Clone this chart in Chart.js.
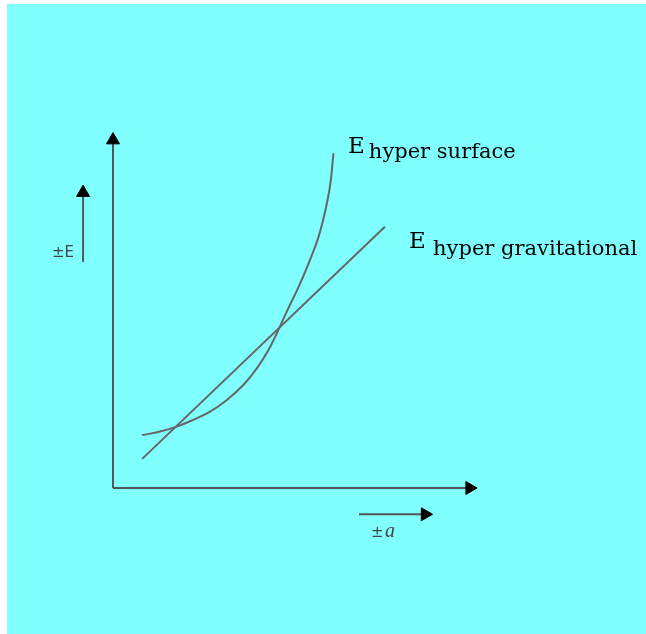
<!DOCTYPE html>
<html lang="en">
<head>
    <meta charset="UTF-8">
    <title>E hyper surface / E hyper gravitational</title>
    <script src="https://cdn.jsdelivr.net/npm/chart.js"></script>
    <style>
        html, body { margin: 0; padding: 0; background: #ffffff; }
        #wrap {
            position: absolute; left: 7px; top: 4px;
            width: 639px; height: 630px;
            background: #80ffff;
        }
    </style>
</head>
<body>
    <div id="wrap"><canvas id="energyChart"></canvas></div>

    <script>
        // curve values, in axis units (origin = where the two axes meet, axes run 0..10)
        const surfaceX = [0.80, 1.29, 1.75, 2.20, 2.66, 3.12, 3.57, 3.94, 4.26, 4.49, 4.76, 5.07, 5.34, 5.62, 5.81, 5.95, 6.04];
        const surfaceY = [1.49, 1.59, 1.73, 1.92, 2.15, 2.48, 2.90, 3.37, 3.89, 4.36, 4.97, 5.63, 6.28, 7.04, 7.78, 8.54, 9.43];

        const gravX = [0.80, 7.45];
        const gravY = [0.82, 7.36];

        // the two main axes (last point carries the arrow head)
        const yAxisX = [0, 0];
        const yAxisY = [0, 9.80];
        const xAxisX = [0, 9.77];
        const xAxisY = [0, 0];

        // the small direction arrows beside the axes
        const eArrowX = [-0.82, -0.82];
        const eArrowY = [6.37, 8.32];
        const aArrowX = [6.74, 8.55];
        const aArrowY = [-0.74, -0.74];

        // visible range of the drawing, in the same units
        const xRange = [-2.904, 14.603];
        const yRange = [-4.113, 13.634];

        const toPoints = (xs, ys) => xs.map((x, i) => ({ x: x, y: ys[i] }));

        // text, anchored at its left end / baseline, in axis units
        const labels = [
            { text: '\u00b1E', x: -1.67, y: 6.51, font: '15px "DejaVu Sans"', color: '#444444' },
            { text: 'E', x: 6.44, y: 9.44, font: '23px "DejaVu Serif"', color: '#000000' },
            { text: 'hyper surface', x: 7.01, y: 9.30, font: '21px "DejaVu Serif"', color: '#000000' },
            { text: 'E', x: 8.11, y: 6.76, font: '23px "DejaVu Serif"', color: '#000000' },
            { text: 'hyper gravitational', x: 8.77, y: 6.56, font: '21px "DejaVu Serif"', color: '#000000' },
            { text: '\u00b1', x: 7.07, y: -1.38, font: '15px "DejaVu Sans"', color: '#444444' },
            { text: 'a', x: 7.45, y: -1.38, font: 'italic 20px "Liberation Serif"', color: '#444444' }
        ];

        const labelPlugin = {
            id: 'labelPlugin',
            afterDraw(chart) {
                const ctx = chart.ctx;
                const xs = chart.scales.x;
                const ys = chart.scales.y;
                ctx.save();
                ctx.textAlign = 'left';
                ctx.textBaseline = 'alphabetic';
                labels.forEach(l => {
                    ctx.font = l.font;
                    ctx.fillStyle = l.color;
                    ctx.fillText(l.text, xs.getPixelForValue(l.x), ys.getPixelForValue(l.y));
                });
                ctx.restore();
            }
        };

        const arrow = (label, xs, ys, rotation) => ({
            label: label,
            data: toPoints(xs, ys),
            showLine: true,
            borderColor: '#555555',
            borderWidth: 2,
            pointRadius: [0, 7.5],
            pointStyle: 'triangle',
            rotation: rotation,
            pointBackgroundColor: '#000000',
            pointBorderColor: '#000000',
            pointBorderWidth: 1
        });

        const curve = (label, xs, ys, tension) => ({
            label: label,
            data: toPoints(xs, ys),
            showLine: true,
            borderColor: '#666666',
            borderWidth: 2,
            pointRadius: 0,
            tension: tension
        });

        const ctx = document.getElementById('energyChart').getContext('2d');
        new Chart(ctx, {
            type: 'scatter',
            data: {
                datasets: [
                    curve('E hyper surface', surfaceX, surfaceY, 0.4),
                    curve('E hyper gravitational', gravX, gravY, 0),
                    arrow('E axis', yAxisX, yAxisY, 0),
                    arrow('a axis', xAxisX, xAxisY, 90),
                    arrow('\u00b1E arrow', eArrowX, eArrowY, 0),
                    arrow('\u00b1a arrow', aArrowX, aArrowY, 90)
                ]
            },
            options: {
                responsive: true,
                maintainAspectRatio: false,
                animation: false,
                events: [],
                layout: { padding: 0, autoPadding: false },
                plugins: {
                    legend: { display: false },
                    tooltip: { enabled: false }
                },
                scales: {
                    x: { type: 'linear', display: false, min: xRange[0], max: xRange[1] },
                    y: { type: 'linear', display: false, min: yRange[0], max: yRange[1] }
                }
            },
            plugins: [labelPlugin]
        });
    </script>
</body>
</html>
